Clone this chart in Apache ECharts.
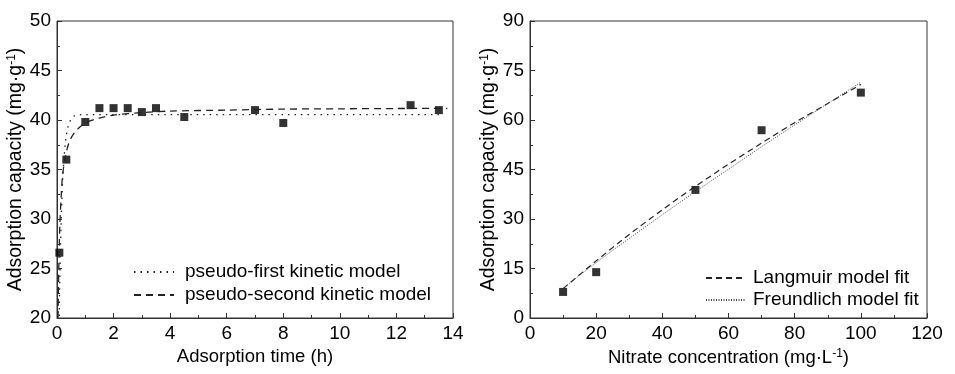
<!DOCTYPE html>
<html>
<head>
<meta charset="utf-8">
<script src="https://cdn.jsdelivr.net/npm/echarts@6/dist/echarts.min.js"></script>
<style>html,body{margin:0;padding:0;background:#fff}#c{width:955px;height:374px}</style>
</head>
<body>
<div id="c"></div>
<script>
// ---- Left chart: kinetics ----
const timeH = [0.083, 0.33, 1, 1.5, 2, 2.5, 3, 3.5, 4.5, 7, 8, 12.5, 13.5];
const capacityT = [26.6, 36.0, 39.8, 41.2, 41.2, 41.2, 40.8, 41.2, 40.3, 41.0, 39.7, 41.5, 41.0];
const pfoT = [0.07, 0.1, 0.125, 0.15, 0.2, 0.25, 0.3, 0.35, 0.4, 0.5, 0.6, 0.8, 1.0, 13.5];
const pfoQ = [18.9, 24.0, 27.1, 30.0, 33.9, 36.2, 37.8, 38.8, 39.4, 40.1, 40.4, 40.52, 40.55, 40.55];
const psoT = [0.03, 0.05, 0.083, 0.1, 0.15, 0.2, 0.3, 0.4, 0.5, 0.7, 1.0, 1.5, 2, 3, 4, 6, 8, 10, 12, 13.8];
const psoQ = [17.6, 22.9, 27.6, 29.4, 32.4, 34.5, 36.4, 37.5, 38.2, 39.0, 39.7, 40.2, 40.5, 40.75, 40.9, 41.0, 41.1, 41.13, 41.16, 41.18];
const xTicksL = [0, 2, 4, 6, 8, 10, 12, 14];
const yTicksL = [20, 25, 30, 35, 40, 45, 50];

// ---- Right chart: isotherms ----
const concentration = [10, 20, 50, 70, 100];
const capacityC = [7.9, 13.9, 38.8, 56.9, 68.3];
const fitC = [10, 20, 30, 40, 50, 60, 70, 80, 90, 100];
const langmuirQ = [8.9, 17.3, 25.3, 32.8, 39.9, 46.6, 53.0, 59.2, 65.0, 70.8];
const freundlichQ = [9.0, 16.8, 24.1, 31.3, 38.3, 45.1, 51.9, 58.5, 65.0, 71.5];
const xTicksR = [0, 20, 40, 60, 80, 100, 120];
const yTicksR = [0, 15, 30, 45, 60, 75, 90];

const FONT = '"Liberation Sans", Arial, sans-serif';
const INK = '#000';
const FRAME = '#333';

function zip(a, b) { return a.map((v, i) => [v, b[i]]); }

function valAxis(idx, ticks, interval, name, nameGap, rot, nameSize) {
  return {
    type: 'value', gridIndex: idx,
    min: ticks[0], max: ticks[ticks.length - 1], interval: interval,
    name: name, nameLocation: 'middle', nameGap: nameGap, nameRotate: rot,
    nameTextStyle: {
      fontFamily: FONT, fontSize: nameSize, color: INK,
      rich: {
        a: { fontFamily: FONT, fontSize: nameSize, color: INK },
        s: { fontFamily: FONT, fontSize: 12, color: INK, verticalAlign: 'top', padding: [0, 0, 9, 0] }
      }
    },
    axisLine: { show: true, lineStyle: { color: FRAME, width: 1 } },
    axisTick: { show: true, inside: true, length: 5, lineStyle: { color: FRAME } },
    minorTick: { show: true, splitNumber: 2, length: 3, lineStyle: { color: FRAME } },
    axisLabel: { fontFamily: FONT, fontSize: 19, color: INK, margin: 6 },
    splitLine: { show: false }
  };
}

const legendText = { fontFamily: FONT, fontSize: 19, color: INK, lineHeight: 22, padding: [0, 0, 0, 6] };

const chart = echarts.init(document.getElementById('c'), null, { renderer: 'canvas' });
chart.setOption({
  backgroundColor: '#fff',
  animation: false,
  grid: [
    { left: 57, top: 21, width: 396, height: 297, show: true, borderColor: FRAME, borderWidth: 1, backgroundColor: 'transparent' },
    { left: 530, top: 21, width: 397, height: 297, show: true, borderColor: FRAME, borderWidth: 1, backgroundColor: 'transparent' }
  ],
  xAxis: [
    valAxis(0, xTicksL, 2, '{a|Adsorption time (h)}', 22, 0, 18.5),
    valAxis(1, xTicksR, 20, '{a|Nitrate concentration (mg·L}{s|-1}{a|)}', 28, 0, 18.5)
  ],
  yAxis: [
    valAxis(0, yTicksL, 5, '{a|Adsorption capacity (mg·g}{s|-1}{a|)}', 28, 90, 19.5),
    valAxis(1, yTicksR, 15, '{a|Adsorption capacity (mg·g}{s|-1}{a|)}', 27, 90, 19.5)
  ],
  legend: [
    {
      left: 128, top: 256, orient: 'vertical', itemWidth: 40, itemHeight: 14, itemGap: 1,
      data: ['pseudo-first kinetic model', 'pseudo-second kinetic model'],
      textStyle: legendText, itemStyle: { opacity: 0 }
    },
    {
      left: 700, top: 262, orient: 'vertical', itemWidth: 40, itemHeight: 14, itemGap: 0,
      data: ['Langmuir model fit', 'Freundlich model fit'],
      textStyle: Object.assign({}, legendText, { padding: [0, 0, 0, 2] }), itemStyle: { opacity: 0 }
    }
  ],
  series: [
    { type: 'line', name: 'pseudo-first kinetic model', xAxisIndex: 0, yAxisIndex: 0, data: zip(pfoT, pfoQ),
      showSymbol: false, symbol: 'none', smooth: 0.3, lineStyle: { color: '#222', width: 1.3, type: [1.5, 5] }, itemStyle: { color: '#222' } },
    { type: 'line', name: 'pseudo-second kinetic model', xAxisIndex: 0, yAxisIndex: 0, data: zip(psoT, psoQ),
      showSymbol: false, symbol: 'none', smooth: 0.3, lineStyle: { color: '#222', width: 1.3, type: [7, 5] }, itemStyle: { color: '#222' } },
    { type: 'scatter', xAxisIndex: 0, yAxisIndex: 0, data: zip(timeH, capacityT), symbol: 'rect', symbolSize: 8, itemStyle: { color: '#000' } },
    { type: 'line', name: 'Langmuir model fit', xAxisIndex: 1, yAxisIndex: 1, data: zip(fitC, langmuirQ),
      showSymbol: false, symbol: 'none', smooth: 0.3, lineStyle: { color: '#222', width: 1.2, type: [6, 4] }, itemStyle: { color: '#222' } },
    { type: 'line', name: 'Freundlich model fit', xAxisIndex: 1, yAxisIndex: 1, data: zip(fitC, freundlichQ),
      showSymbol: false, symbol: 'none', smooth: 0.3, lineStyle: { color: '#444', width: 1, type: [1, 1.5] }, itemStyle: { color: '#444' } },
    { type: 'scatter', xAxisIndex: 1, yAxisIndex: 1, data: zip(concentration, capacityC), symbol: 'rect', symbolSize: 8, itemStyle: { color: '#000' } }
  ]
});
</script>
</body>
</html>
